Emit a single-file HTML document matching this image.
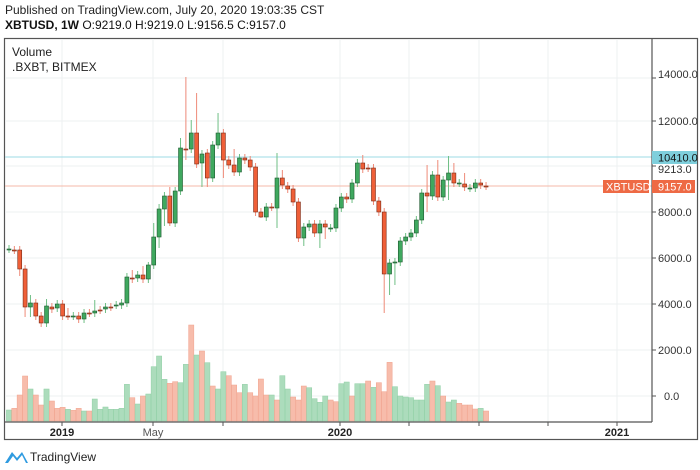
<!DOCTYPE html>
<html><head><meta charset="utf-8"><style>
body{margin:0;width:700px;height:470px;background:#fff;overflow:hidden;font-family:"Liberation Sans",sans-serif;}
svg{position:absolute;left:0;top:0}
</style></head><body>
<svg id="s" width="700" height="470" xmlns="http://www.w3.org/2000/svg" font-family="Liberation Sans, sans-serif">
<text x="5" y="14" font-size="12" fill="#222">Published on TradingView.com, July 20, 2020 19:03:35 CST</text>
<text x="5" y="29" font-size="12" fill="#111" font-weight="bold">XBTUSD, 1W <tspan font-weight="normal">O:9219.0 H:9219.0 L:9156.5 C:9157.0</tspan></text>
<rect x="4.5" y="38.5" width="693" height="401" fill="none" stroke="#555" stroke-width="1.2"/>
<g id="grid" stroke="#eef0f2" stroke-width="1"></g>
<line x1="5" y1="157" x2="652" y2="157" stroke="#9edbe6" stroke-width="1"/>
<line x1="5" y1="186" x2="652" y2="186" stroke="#f5b8a8" stroke-width="1"/>
<g id="vol"></g>
<g id="cd"></g>
<line x1="652" y1="39" x2="652" y2="422" stroke="#555" stroke-width="1.2"/>
<line x1="5" y1="422" x2="652" y2="422" stroke="#555" stroke-width="1.2"/>
<g id="ticks" stroke="#555"></g>
<g font-size="11" fill="#333">
<text x="658" y="78">14000.0</text>
<text x="658" y="125">12000.0</text>
<text x="658" y="173">9213.0</text>
<text x="658" y="216">8000.0</text>
<text x="658" y="262">6000.0</text>
<text x="658" y="308">4000.0</text>
<text x="658" y="354">2000.0</text>
<text x="664" y="400">0.0</text>
</g>
<rect x="652" y="151" width="45" height="13" fill="#7fcfdc"/>
<text x="658" y="161.5" font-size="11" fill="#111">10410.0</text>
<rect x="603" y="180" width="46" height="13" fill="#ee6a45"/>
<text x="606" y="190.5" font-size="11" fill="#fff">XBTUSD</text>
<rect x="652" y="180" width="43" height="13" fill="#ee6a45"/>
<text x="658" y="190.5" font-size="11" fill="#fff">9157.0</text>
<text x="12" y="56" font-size="12" fill="#222">Volume</text>
<text x="12" y="71" font-size="12" fill="#222">.BXBT, BITMEX</text>
<g font-size="11" fill="#222" text-anchor="middle">
<text x="62" y="436" font-weight="bold">2019</text>
<text x="153" y="436" fill="#555">May</text>
<text x="340" y="436" font-weight="bold">2020</text>
<text x="617" y="436" font-weight="bold">2021</text>
</g>
<g transform="translate(5,449)">
<path d="M0 14 L7 3 L12 9 L17 3 L23 14 Z" fill="#2f9be0"/>
<path d="M3 14 L8 7 L12 12 L17 6 L21 14 Z" fill="#fff"/>
</g>
<text x="30" y="461" font-size="12" fill="#222">TradingView</text>
</svg>
<script>
var NS="http://www.w3.org/2000/svg";
function el(p,t,a){var e=document.createElementNS(NS,t);for(var k in a)e.setAttribute(k,a[k]);p.appendChild(e);return e;}
var g=document.getElementById('grid'),tk=document.getElementById('ticks');
[78,121,166,212,258,304,350,396].forEach(function(y){el(g,'line',{x1:5,y1:y,x2:652,y2:y});el(tk,'line',{x1:652,y1:y,x2:656,y2:y});});
[62,153,223,340,409,479,548,617].forEach(function(x){el(g,'line',{x1:x,y1:39,x2:x,y2:422});el(tk,'line',{x1:x,y1:422,x2:x,y2:426});});
// o,c,hi,lo (pixel y)
var C=[[249,249],[250,250],[250,269,0,276],[269,307,0,317],[307,303,295,317],[303,316],[316,323],[323,306,299],[307,309],[308,304],[304,316],[316,316,308],[316,316],[316,319],[319,313],[313,313],[313,311,300],[310,310],[309,307],[307,307],[305,305],[305,303],[303,277,273],[278,278,270,283],[278,275],[275,279,266],[279,265,262],[265,237,223],[237,209,204,248],[209,196,192,226],[196,223,187,226],[223,191],[191,148,138],[149,149,77,160],[149,133,120],[133,164,93],[163,154,0,187],[153,178,0,187],[178,145],[145,133,113],[133,160,0,178],[160,165],[165,172,149],[172,158],[158,160],[160,167],[167,212,0,216],[212,217,0,218],[217,207],[207,207],[208,178,153,228],[178,185,170],[186,189],[189,202],[202,238],[238,227,0,246],[227,224],[224,233],[233,224,0,248],[224,227,0,239],[228,228],[228,208],[208,197],[197,199],[199,183],[183,163],[163,169,155],[168,168],[168,201],[201,212],[212,274,0,313],[274,263,0,295],[262,262,0,285],[262,241],[241,237],[237,233],[233,220],[220,193],[193,196,165,212],[196,175],[175,197,160],[197,180],[180,173,156,200],[173,183,163],[183,183],[184,187,173],[188,188],[188,183],[183,185],[186,186]];
var cd=document.getElementById('cd'),sp=5.36,x0=9;
C.forEach(function(c,i){var x=x0+i*sp,o=c[0],cl=c[1],up=cl<o||(cl==o&&i%2==0);
var top=Math.min(o,cl),bot=Math.max(o,cl);var hi=c[2]||top-4,lo=c[3]||bot+4;
el(cd,'line',{x1:x,y1:hi,x2:x,y2:lo,stroke:up?'#6fbf85':'#ee8a78','stroke-width':1});
el(cd,'rect',{x:x-2,y:top,width:4,height:Math.max(bot-top,1),fill:up?'#3fa85f':'#ef5f38',stroke:up?'#1e5a30':'#7a2a15','stroke-width':0.6});});
var V=[[270,'g'],[265,'r'],[225,'r'],[168,'r'],[207,'g'],[225,'r'],[255,'r'],[207,'g'],[243,'r'],[265,'r'],[262,'r'],[268,'g'],[271,'r'],[265,'r'],[273,'g'],[273,'r'],[237,'g'],[268,'g'],[261,'g'],[268,'g'],[268,'g'],[265,'g'],[193,'g'],[233,'r'],[252,'g'],[228,'r'],[222,'g'],[140,'g'],[108,'g'],[178,'g'],[190,'r'],[185,'r'],[188,'g'],[133,'g'],[15,'r'],[105,'g'],[93,'r'],[128,'g'],[198,'r'],[207,'g'],[155,'g'],[167,'r'],[195,'r'],[218,'r'],[193,'g'],[218,'r'],[228,'r'],[177,'r'],[225,'r'],[225,'g'],[240,'r'],[167,'g'],[207,'g'],[231,'r'],[240,'r'],[198,'r'],[203,'g'],[236,'g'],[247,'g'],[228,'g'],[240,'r'],[245,'r'],[191,'g'],[186,'g'],[228,'r'],[191,'g'],[191,'g'],[183,'r'],[202,'g'],[188,'r'],[215,'r'],[127,'r'],[200,'g'],[228,'g'],[231,'g'],[233,'g'],[240,'g'],[240,'g'],[193,'g'],[183,'r'],[197,'g'],[228,'r'],[246,'g'],[240,'g'],[250,'r'],[255,'r'],[255,'r'],[267,'r'],[265,'g'],[273,'r']];
var vg=document.getElementById('vol');
V.forEach(function(v,i){var x=x0+i*sp,t=320+v[0]/3;
el(vg,'rect',{x:x-2.6,y:t,width:5.2,height:421-t,fill:v[1]=='g'?'#acdcbc':'#f7bcab',stroke:v[1]=='g'?'#8fcfa4':'#f0a28d','stroke-width':0.5});});
</script>
</body></html>
